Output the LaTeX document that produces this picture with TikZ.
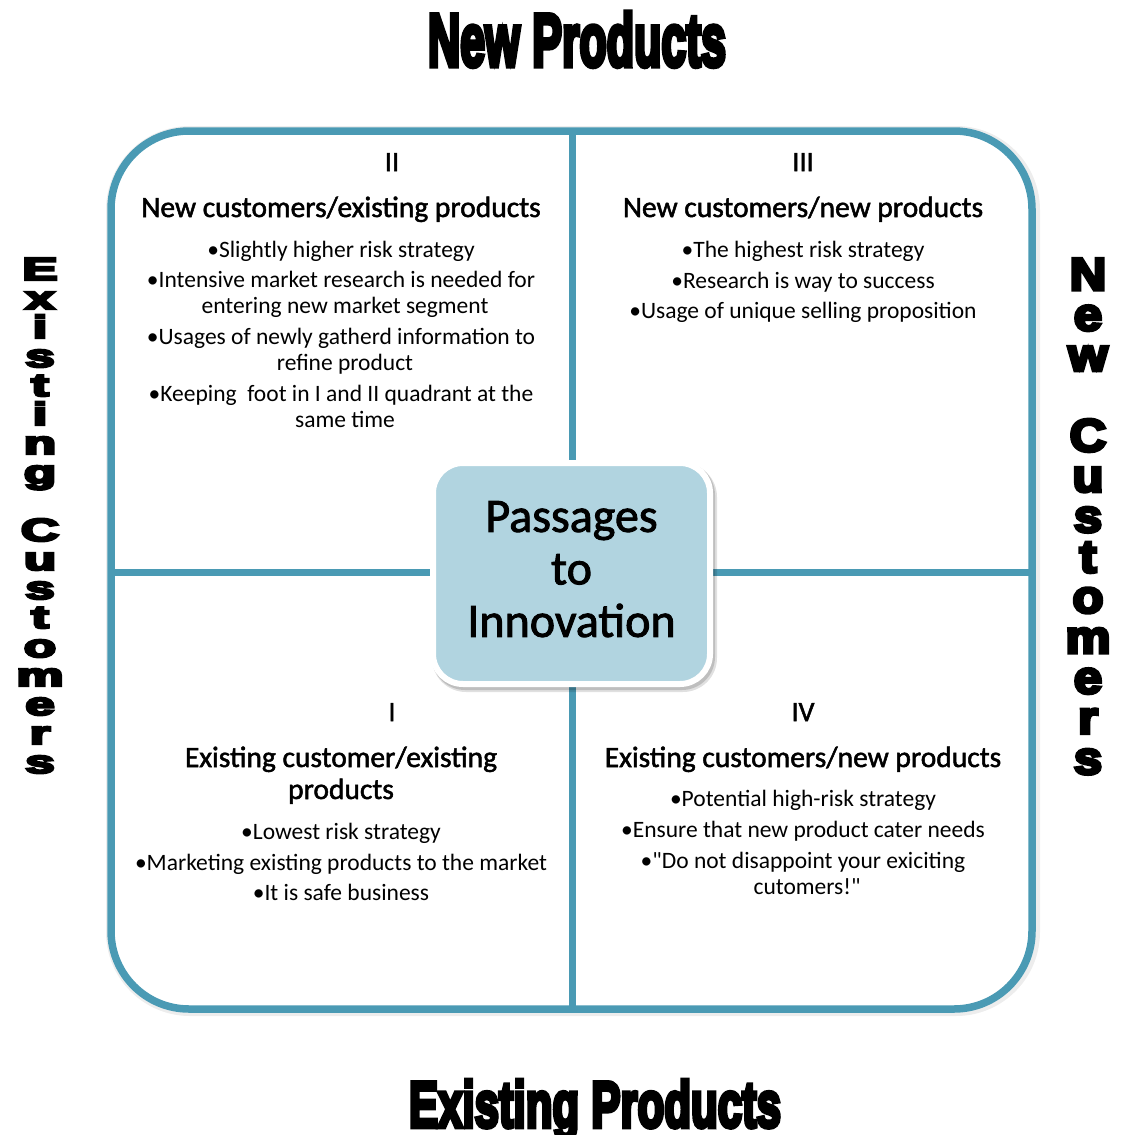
\documentclass[tikz,border=0pt]{standalone}
\usepackage{fontspec}
\setmainfont{Carlito}
\newfontfamily\heavyfont{Liberation Sans}
\newfontfamily\straightq{Carlito}[Ligatures=TeXOff]
\definecolor{frameblue}{RGB}{74,154,180}
\definecolor{hubfill}{RGB}{177,212,224}

% glyphs filled and outlined, for a heavier face
\newcommand\strokedtext[2]{\special{pdf:literal direct 2 Tr #1 w}#2\special{pdf:literal direct 0 Tr}}

\begin{document}
\begin{tikzpicture}[x=1pt,y=-1pt,
  numeral/.style={anchor=base, inner sep=0pt, font=\fontsize{28}{32}\selectfont},
  heading/.style={anchor=base, inner sep=0pt, font=\fontsize{29.5}{34}\selectfont},
  point/.style={anchor=base, inner sep=0pt, font=\fontsize{23.5}{26}\selectfont},
  sideleft/.style={anchor=base, inner sep=0pt, font=\fontsize{32}{32}\heavyfont\bfseries},
  sideright/.style={anchor=base, inner sep=0pt, font=\fontsize{46}{46}\heavyfont\bfseries},
  title/.style={anchor=base, inner sep=0pt, font=\fontsize{10}{12}\heavyfont\bfseries},
  divider/.style={frameblue, line width=7pt}
]
\useasboundingbox (0,0) rectangle (1120,1135);

% outer frame with a faint halo
\draw[black, opacity=0.07, line width=12pt, rounded corners=78pt] (112,132) rectangle (1034,1010);
\draw[frameblue, line width=7.5pt, fill=white, rounded corners=78pt] (111,131) rectangle (1032,1009);

% quadrant dividers
\coordinate (vtop) at (572,131);
\coordinate (vbot) at (572,1009);
\coordinate (hleft) at (111,572);
\coordinate (hright) at (1032,572);
\draw[divider] (vtop) -- (vbot);
\draw[divider] (hleft) -- (hright);

% central box with its shadow
\fill[black, opacity=0.12, rounded corners=34pt] (432,463) rectangle (717,692);
\fill[black, opacity=0.15, rounded corners=33pt] (432,462) rectangle (715,690);
\node[draw=white, line width=6pt, fill=hubfill, rounded corners=30pt,
      minimum width=277pt, minimum height=221pt, inner sep=0pt, align=center,
      font=\fontsize{48}{52.5}\selectfont, text depth=9pt]
  (hub) at (571.5,573.5)
  {\strokedtext{0.9}{Passages}\\\strokedtext{0.9}{to}\\\strokedtext{0.9}{Innovation}};

% quadrant II
\node[numeral] (q2-num) at (392,171) {\strokedtext{0.5}{II}};
\node[heading] (q2-head) at (341,217) {\strokedtext{0.5}{New customers/existing products}};
\node[point] (q2-b1) at (341,257) {•Slightly higher risk strategy};
\node[point] (q2-b2a) at (341,287.5) {•Intensive market research is needed for};
\node[point] (q2-b2b) at (345,313.5) {entering new market segment};
\node[point] (q2-b3a) at (341,344.5) {•Usages of newly gatherd information to};
\node[point] (q2-b3b) at (345,370.5) {refine product};
\node[point] (q2-b4a) at (341,401.5) {•Keeping\ \ foot in I and II quadrant at the};
\node[point] (q2-b4b) at (345,427.5) {same time};

% quadrant III
\node[numeral] (q3-num) at (803,171) {\strokedtext{0.5}{III}};
\node[heading] (q3-head) at (803,217) {\strokedtext{0.5}{New customers/new products}};
\node[point] (q3-b1) at (803,257.5) {•The highest risk strategy};
\node[point] (q3-b2) at (803,288) {•Research is way to success};
\node[point] (q3-b3) at (803,318.5) {•Usage of unique selling proposition};

% quadrant I
\node[numeral] (q1-num) at (392,721) {\strokedtext{0.5}{I}};
\node[heading] (q1-head-a) at (341,767) {\strokedtext{0.5}{Existing customer/existing}};
\node[heading] (q1-head-b) at (341,799) {\strokedtext{0.5}{products}};
\node[point] (q1-b1) at (341,839.5) {•Lowest risk strategy};
\node[point] (q1-b2) at (341,870) {•Marketing existing products to the market};
\node[point] (q1-b3) at (341,900.5) {•It is safe business};

% quadrant IV
\node[numeral] (q4-num) at (803,721) {\strokedtext{0.5}{IV}};
\node[heading] (q4-head) at (803,767) {\strokedtext{0.5}{Existing customers/new products}};
\node[point] (q4-b1) at (803,806.5) {•Potential high-risk strategy};
\node[point] (q4-b2) at (803,837.5) {•Ensure that new product cater needs};
\node[point] (q4-b3a) at (803,868.5) {•{\straightq"}Do not disappoint your exiciting};
\node[point] (q4-b3b) at (807,894.5) {cutomers!{\straightq"}};

% axis titles
\node[title] (newprod) at (577,66) {\resizebox{298pt}{54pt}{\strokedtext{0.7}{New Products}}};
\node[title] (oldprod) at (595,1127) {\resizebox{372pt}{47pt}{\strokedtext{0.7}{Existing Products}}};

% stacked side labels
\foreach \ch/\k in {E/0,x/1,i/2,s/3,t/4,i/5,n/6,g/7,C/9,u/10,s/11,t/12,o/13,m/14,e/15,r/16,s/17}
  \node[sideleft] (left-\k) at (40,{280+\k*29.0}) {\scalebox{1.65}[1]{\strokedtext{2.2}{\ch}}};
\foreach \ch/\k in {N/0,e/1,w/2,C/4,u/5,s/6,t/7,o/8,m/9,e/10,r/11,s/12}
  \node[sideright] (right-\k) at (1088,{290+\k*40.33}) {\scalebox{1.1}[1]{\strokedtext{3.2}{\ch}}};
\end{tikzpicture}
\end{document}
